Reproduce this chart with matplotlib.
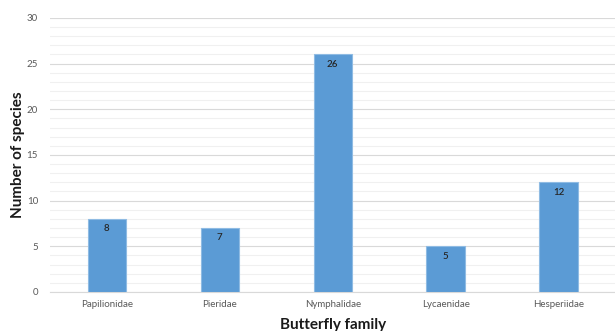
import numpy as np
from matplotlib import pyplot as plt

families = ['Papilionidae', 'Pieridae', 'Nymphalidae', 'Lycaenidae', 'Hesperiidae']
species = [8, 7, 26, 5, 12]
y_ticks = [0, 5, 10, 15, 20, 25, 30]

plt.rcParams['font.family'] = ['Lato', 'DejaVu Sans']

fig = plt.figure(figsize=(6.15, 3.31), dpi=100)
ax = fig.add_axes([0.082, 0.118, 0.918, 0.828])

x = np.arange(len(families))
bars = ax.bar(x, species, width=0.34, color='#5b9bd5', edgecolor='#8fbbe3', linewidth=0.8, zorder=3)

for b, v in zip(bars, species):
    ax.text(b.get_x() + b.get_width() / 2, v - 0.6, str(v), ha='center', va='top',
            fontsize=7, fontweight='semibold', color='#262626', zorder=4)

ax.set_xlim(-0.5, len(families) - 0.5)
ax.set_ylim(0, 30)
ax.set_yticks(y_ticks)
ax.set_yticks(np.arange(0, 31, 1), minor=True)
ax.set_xticks(x)
ax.set_xticklabels(families)

ax.grid(axis='y', which='major', color='#d9d9d9', linewidth=0.8, zorder=0)
ax.grid(axis='y', which='minor', color='#f0f0f0', linewidth=0.8, zorder=0)
for s in ['top', 'right', 'left']:
    ax.spines[s].set_visible(False)
ax.spines['bottom'].set_color('#d9d9d9')
ax.tick_params(axis='both', which='both', length=0, labelsize=7, labelcolor='#595959')
ax.tick_params(axis='y', pad=9)
ax.tick_params(axis='x', pad=6)

ax.set_ylabel('Number of species', fontsize=11, fontweight='bold', color='#1a1a1a', labelpad=1)
ax.set_xlabel('Butterfly family', fontsize=11, fontweight='bold', color='#1a1a1a', labelpad=6)

fig.savefig('out.png', dpi=100)
